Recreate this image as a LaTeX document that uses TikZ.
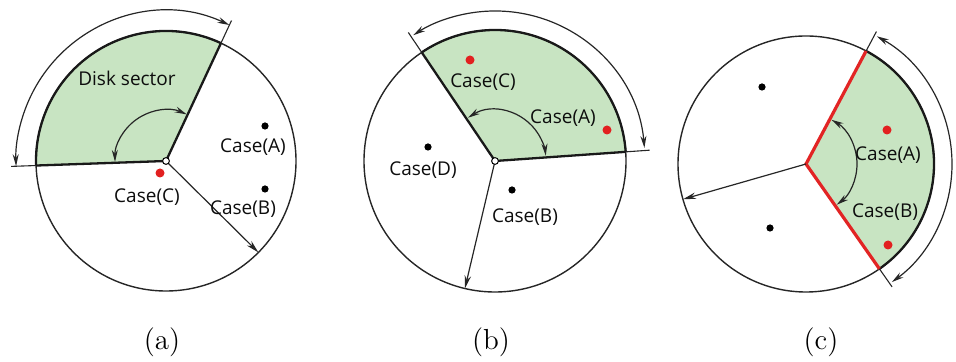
\documentclass[tikz,border=0pt]{standalone}
\usepackage{fontspec}
\newfontfamily\labfont{Open Sans}
\usetikzlibrary{arrows.meta,calc}
\definecolor{secgreen}{RGB}{200,228,194}
\definecolor{dotred}{RGB}{226,32,32}
\definecolor{linered}{RGB}{226,36,36}
\tikzset{
  circ/.style={draw=black!85, line width=0.7pt},
  secline/.style={draw=black!90, line width=1.15pt},
  thin/.style={draw=black!85, line width=0.55pt},
  dim/.style={draw=black!85, line width=0.6pt, {Stealth[length=6pt,width=3pt]}-{Stealth[length=6pt,width=3pt]}},
  ray/.style={draw=black!85, line width=0.6pt, -{Stealth[length=6.5pt,width=3.2pt]}},
  lab/.style={font=\labfont\fontsize{9.5}{11}\selectfont, text=black!95, inner sep=0pt},
  sub/.style={font=\fontsize{14.5}{17}\selectfont, inner sep=0pt},
  bdot/.style={fill=black, circle, inner sep=0pt, minimum size=3.6pt},
  rdot/.style={fill=dotred, circle, inner sep=0pt, minimum size=4.5pt},
  odot/.style={fill=white, draw=black, line width=0.5pt, circle, inner sep=0pt, minimum size=3.4pt},
}
\begin{document}
\begin{tikzpicture}[x=0.5pt,y=0.5pt]
\useasboundingbox (0,0) rectangle (956,362);
% ---------- (a) ----------
\coordinate (ca) at (166,201);
\fill[secgreen] (ca) -- ++(65:130) arc[start angle=65, end angle=182, radius=130] -- cycle;
\draw[circ] (ca) circle[radius=130];
\draw[secline] (ca) ++(182:130) -- (ca) -- ++(65:130);
\draw[secline] (ca) ++(65:130) arc[start angle=65, end angle=182, radius=130];
\draw[thin] (ca) ++(65:130) -- ++(65:25);
\draw[thin] (ca) ++(182:130) -- ++(182:25);
\draw[dim] (ca) ++(65:150) arc[start angle=65, end angle=182, radius=150];
\draw[dim] (ca) ++(66:51) arc[start angle=66, end angle=181, radius=51];
\coordinate (ea) at ($(ca)+(-44.7:130)$);
\draw[ray] (ca) -- (ea);
\node[odot] (oa) at (ca) {};
\node[lab] (dska) at (127,284) {Disk sector};
\node[bdot] (pAa) at (265,236) {};
\node[lab] (lAa) at (253,215) {Case(A)};
\node[bdot] (pBa) at (265,173) {};
\node[lab] (lBa) at (243,153) {Case(B)};
\node[rdot] (pCa) at (160,189) {};
\node[lab] (lCa) at (147,165) {Case(C)};
\node[sub] (suba) at (162,20) {(a)};
% ---------- (b) ----------
\coordinate (cb) at (495,201);
\fill[secgreen] (cb) -- ++(4:131) arc[start angle=4, end angle=124, radius=131] -- cycle;
\draw[circ] (cb) circle[radius=131];
\draw[secline] (cb) ++(4:131) -- (cb) -- ++(124:131);
\draw[secline] (cb) ++(4:131) arc[start angle=4, end angle=124, radius=131];
\draw[thin] (cb) ++(4:131) -- ++(4:24);
\draw[thin] (cb) ++(124:131) -- ++(124:24);
\draw[dim] (cb) ++(5:150) arc[start angle=5, end angle=123, radius=150];
\draw[dim] (cb) ++(122:51) arc[start angle=122, end angle=6, radius=51];
\coordinate (eb) at ($(cb)+(256.7:131)$);
\draw[ray] (cb) -- (eb);
\node[odot] (ob) at (cb) {};
\node[rdot] (pCb) at (470,302) {};
\node[lab] (lCb) at (483,280) {Case(C)};
\node[lab] (lAb) at (563,244) {Case(A)};
\node[rdot] (pAb) at (607,232) {};
\node[bdot] (pDb) at (428,215) {};
\node[lab] (lDb) at (423,192) {Case(D)};
\node[bdot] (pBb) at (512,172) {};
\node[lab] (lBb) at (525,145) {Case(B)};
\node[sub] (subb) at (491,20) {(b)};
% ---------- (c) ----------
\coordinate (cc) at (806,198);
\fill[secgreen] (cc) -- ++(-55:128) arc[start angle=-55, end angle=62, radius=128] -- cycle;
\draw[circ] (cc) circle[radius=128];
\draw[secline] (cc) ++(-55:128) arc[start angle=-55, end angle=62, radius=128];
\draw[linered, line width=1.6pt, line join=miter] (cc) ++(62:128) -- (cc) -- ++(-55:128);
\draw[thin] (cc) ++(62:128) -- ++(62:22);
\draw[thin] (cc) ++(-55:128) -- ++(-55:22);
\draw[dim] (cc) ++(61:146) arc[start angle=61, end angle=-54, radius=146];
\draw[dim] (cc) ++(60:51) arc[start angle=60, end angle=-53, radius=51];
\coordinate (ec) at ($(cc)+(196:128)$);
\draw[ray] (cc) -- (ec);
\node[bdot] (p1c) at (762,275) {};
\node[bdot] (p2c) at (770,134) {};
\node[rdot] (pAc) at (887,232) {};
\node[rdot] (pBc) at (888,117) {};
\node[lab] (lAc) at (888,207) {Case(A)};
\node[lab] (lBc) at (885,150) {Case(B)};
\node[sub] (subc) at (821,20) {(c)};
\end{tikzpicture}
\end{document}
